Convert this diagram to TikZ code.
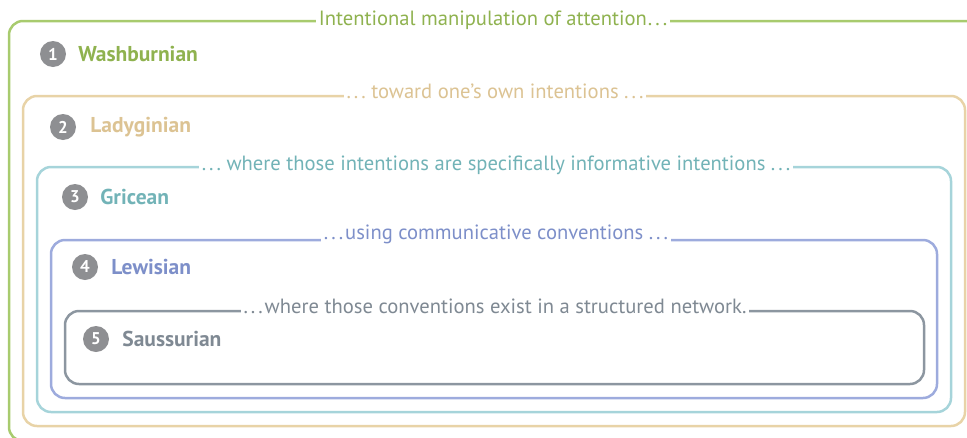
\documentclass[tikz,border=0pt]{standalone}
\usepackage{fontspec}
\setmainfont{PT Sans}
\usetikzlibrary{positioning}

\definecolor{washline}{HTML}{A8CB6E}
\definecolor{washtext}{HTML}{8FB24F}
\definecolor{ladyline}{HTML}{E8D3A7}
\definecolor{ladytext}{HTML}{DCC393}
\definecolor{griceline}{HTML}{A6D4DA}
\definecolor{gricetext}{HTML}{72B3B7}
\definecolor{lewisline}{HTML}{9DABDD}
\definecolor{lewistext}{HTML}{7D8FC9}
\definecolor{saussline}{HTML}{8C96A0}
\definecolor{saustext}{HTML}{7F8993}
\definecolor{dotgrey}{HTML}{8E8F92}

% spaced ellipsis
\newcommand{\dts}{.\kern3pt.\kern3pt.}

\tikzset{
  frame/.style={line width=2.5pt, rounded corners=14pt},
  lead/.style={fill=white, inner xsep=3pt, inner ysep=2pt, anchor=base,
    font=\fontsize{20.6}{24}\selectfont},
  numdot/.style={circle, fill=dotgrey, text=white, inner sep=0pt,
    minimum size=26pt, font=\bfseries\fontsize{17}{17}\selectfont},
  school/.style={inner sep=0pt, font=\bfseries\fontsize{21.5}{24}\selectfont}
}

\begin{document}
\begin{tikzpicture}[x=1pt,y=-1pt]
  \useasboundingbox (0,0) rectangle (967,437);
  % nested frames, outermost first
  \draw[frame, washline] (9,21) rectangle (995,441);
  \draw[frame, ladyline] (23,96) rectangle (965,426);
  \draw[frame, griceline] (37,167) rectangle (951,412);
  \draw[frame, lewisline] (51,240) rectangle (937,398);
  \draw[frame, saussline] (65,311) rectangle (924,384);

  % what each level adds
  \node[lead, text=washtext] (l1) at (493,25.7) {Intentional manipulation of attention\kern1pt\dts};
  \node[lead, text=ladytext] (l2) at (495,98.7) {\dts\ toward one’s own intentions \dts};
  \node[lead, text=gricetext] (l3) at (496,170.3) {\dts\ where those intentions are specifically informative intentions \dts};
  \node[lead, text=lewistext] (l4) at (496,239.5) {\dts\kern2pt using communicative conventions \dts};
  \node[lead, text=saustext] (l5) at (495,313) {\dts\kern2pt where those conventions exist in a structured network.};

  % numbered names
  \node[numdot] (n1) at (53,54) {1};
  \node[school, text=washtext, right=12pt of n1] (s1) {Washburnian};
  \node[numdot] (n2) at (63,127) {2};
  \node[school, text=ladytext, right=14pt of n2] (s2) {Ladyginian};
  \node[numdot] (n3) at (75,197) {3};
  \node[school, text=gricetext, right=12pt of n3] (s3) {Gricean};
  \node[numdot] (n4) at (85,267) {4};
  \node[school, text=lewistext, right=13pt of n4] (s4) {Lewisian};
  \node[numdot] (n5) at (96,339) {5};
  \node[school, text=saustext, right=13pt of n5] (s5) {Saussurian};
\end{tikzpicture}
\end{document}
